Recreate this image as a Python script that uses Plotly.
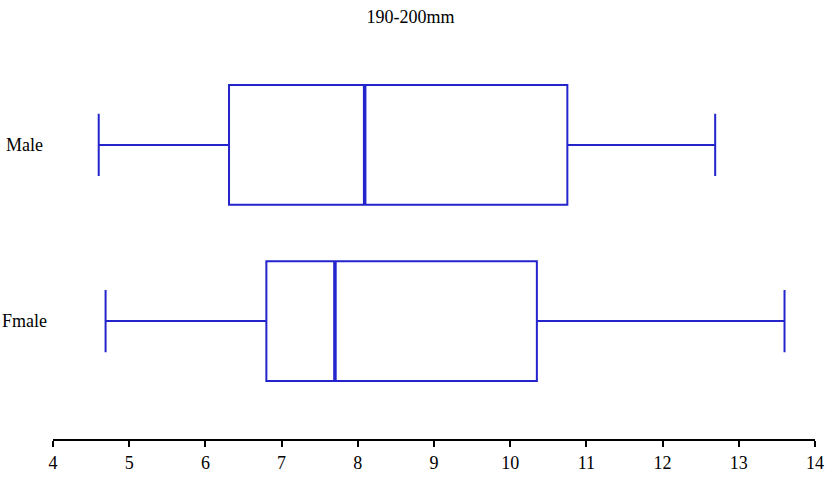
import plotly.graph_objects as go

categories = ["Fmale", "Male"]
lower = [4.69, 4.60]
q1 = [6.80, 6.31]
median = [7.70, 8.09]
q3 = [10.35, 10.75]
upper = [13.60, 12.69]
x_ticks = [4, 5, 6, 7, 8, 9, 10, 11, 12, 13, 14]
title = "190-200mm"

color = "#2424cc"
box_w = 0.68
pos = list(range(len(categories)))

fig = go.Figure()
fig.add_trace(go.Box(
    y=pos, q1=q1, median=median, q3=q3, lowerfence=lower, upperfence=upper,
    orientation="h", width=box_w, whiskerwidth=0.52,
    line=dict(color=color, width=2), fillcolor="rgba(0,0,0,0)",
    boxpoints=False, hoverinfo="skip", showlegend=False,
))
mx, my = [], []
for p, m in zip(pos, median):
    mx += [m, m, None]
    my += [p - box_w / 2, p + box_w / 2, None]
fig.add_trace(go.Scatter(x=mx, y=my, mode="lines",
                         line=dict(color=color, width=3.5), showlegend=False, hoverinfo="skip"))

serif = "Liberation Serif"
W, H, L, R, T, B = 828, 484, 53, 13, 30, 45
label_x = (24.5 - L) / (W - L - R)
for p, name in zip(pos, categories):
    fig.add_annotation(text=name, x=label_x, xref="paper", y=p, yref="y",
                       xanchor="center", yanchor="middle", showarrow=False,
                       font=dict(family=serif, size=18, color="#000"))

fig.update_layout(
    width=W, height=H, plot_bgcolor="white", paper_bgcolor="white",
    margin=dict(l=L, r=R, t=T, b=B, autoexpand=False),
    font=dict(family=serif, size=18, color="#000"),
    title=dict(text=title, x=410.5 / W, xanchor="center", xref="container",
               y=1 - 17 / H, yanchor="middle", yref="container",
               font=dict(family=serif, size=18, color="#000")),
    xaxis=dict(range=[4, 14], tickvals=x_ticks, showgrid=False, zeroline=False,
               showline=True, linecolor="#000", linewidth=2, ticks="outside",
               ticklen=6, tickwidth=2, tickcolor="#000", automargin=False,
               tickfont=dict(family=serif, size=18)),
    yaxis=dict(range=[-0.67, 1.653], tickvals=pos, showticklabels=False,
               showgrid=False, zeroline=False, showline=False, ticks="",
               automargin=False),
)
fig.write_html("out.html", config={"displayModeBar": False},
               post_script="document.body.style.margin='0';")
